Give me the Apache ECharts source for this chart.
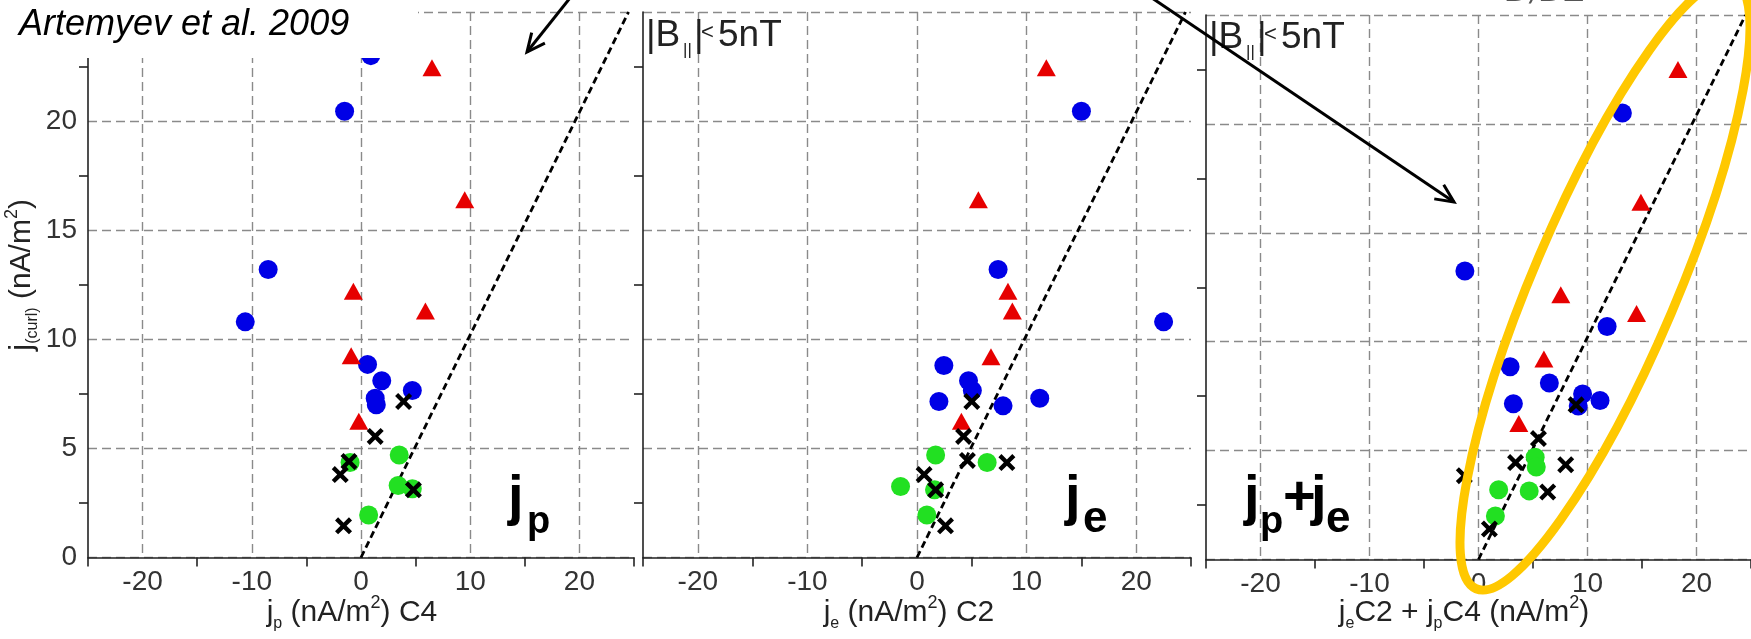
<!DOCTYPE html>
<html><head><meta charset="utf-8">
<script src="https://cdn.jsdelivr.net/npm/echarts@6/dist/echarts.min.js"></script>
<style>html,body{margin:0;padding:0;background:#fff}#c{width:1751px;height:639px}</style>
</head><body><div id="c"></div>
<script>
// ---------- data ----------
const xTickLabels = [-20, -10, 0, 10, 20];
const fitLine = [[0, 0], [24.5, 25]];

// panel 1: j_p (C4)
const blueJp  = [[0.9,23.0],[-1.5,20.45],[-8.5,13.2],[-10.6,10.8],[0.6,8.85],[1.9,8.1],[4.7,7.65],[1.3,7.3],[1.4,7.0]];
const redJp   = [[6.5,22.45],[9.5,16.4],[-0.7,12.2],[5.9,11.3],[-0.9,9.25],[-0.2,6.25]];
const greenJp = [[3.5,4.7],[-1.0,4.35],[3.4,3.3],[4.7,3.15],[0.7,1.95]];
const blackJp = [[3.9,7.15],[1.3,5.55],[-1.1,4.4],[-1.9,3.8],[4.8,3.1],[-1.6,1.45]];

// panel 2: j_e (C2)
const blueJe  = [[15.0,20.45],[7.4,13.2],[22.5,10.8],[2.45,8.8],[4.7,8.1],[5.05,7.65],[2.0,7.15],[7.85,6.95],[11.2,7.3]];
const redJe   = [[11.8,22.45],[5.6,16.4],[8.3,12.2],[8.7,11.3],[6.75,9.2],[4.05,6.25]];
const greenJe = [[1.7,4.7],[6.4,4.35],[-1.5,3.25],[1.6,3.1],[0.9,1.95]];
const blackJe = [[5.0,7.15],[4.25,5.55],[4.6,4.45],[8.2,4.35],[0.65,3.8],[1.7,3.1],[2.6,1.45]];

// panel 3: j_e C2 + j_p C4
const blueSum  = [[13.2,20.5],[-1.25,13.25],[11.8,10.7],[2.9,8.85],[6.5,8.1],[9.55,7.6],[9.15,7.05],[11.15,7.3],[3.2,7.15]];
const redSum   = [[18.3,22.5],[14.9,16.4],[7.55,12.15],[14.5,11.3],[6.0,9.2],[3.7,6.25]];
const greenSum = [[5.2,4.7],[5.3,4.25],[1.85,3.2],[4.65,3.15],[1.55,2.0]];
const blackSum = [[8.95,7.1],[5.5,5.55],[3.4,4.45],[8.0,4.35],[-1.3,3.85],[6.35,3.1],[1.0,1.4]];

const panels = [
  {blue: blueJp, red: redJp, green: greenJp, black: blackJp},
  {blue: blueJe, red: redJe, green: greenJe, black: blackJe},
  {blue: blueSum, red: redSum, green: greenSum, black: blackSum}
];

// ---------- styling ----------
const AX = '#222';
const GRIDC = '#8a8a8a';
const NUMFONT = '"Liberation Sans Narrow","Liberation Sans",sans-serif';
const TXTFONT = '"Liberation Sans",Arial,sans-serif';
const XPATH = 'path://M0,1.8L1.8,0L5,3.2L8.2,0L10,1.8L6.8,5L10,8.2L8.2,10L5,6.8L1.8,10L0,8.2L3.2,5Z';
const gridLine = {color: GRIDC, width: 1.4, type: [9, 5]};

const grids = [
  {left: 88, top: 12, width: 546, height: 545.5},
  {left: 643, top: 12, width: 548, height: 545.5},
  {left: 1206, top: 15, width: 548, height: 544.5}
];

const xAxes = grids.map((g, i) => ({
  gridIndex: i, type: 'value', min: -25, max: 25, interval: 10,
  axisLine: {show: true, onZero: false, lineStyle: {color: AX, width: 1.6}},
  axisTick: {show: true, length: 9, lineStyle: {color: AX, width: 1.6}},
  axisLabel: {show: true, customValues: xTickLabels, margin: 11, fontSize: 28, fontFamily: NUMFONT, color: '#333'},
  splitLine: {show: false},
  minorTick: {show: false, splitNumber: 2},
  minorSplitLine: {show: true, lineStyle: gridLine}
}));

const yAxes = grids.map((g, i) => ({
  gridIndex: i, type: 'value', min: 0, max: 25, interval: 5,
  axisLine: {show: true, onZero: false, lineStyle: {color: AX, width: 1.6}},
  axisTick: {show: false},
  minorTick: {show: true, splitNumber: 2, length: 9, lineStyle: {color: AX, width: 1.6}},
  axisLabel: {show: i === 0, formatter: v => (v >= 25 ? '' : String(v)), margin: 11, fontSize: 28, fontFamily: NUMFONT, color: '#333'},
  splitLine: {show: true, lineStyle: gridLine},
  minorSplitLine: {show: false}
}));

const series = [];
panels.forEach((p, i) => {
  series.push({type: 'line', xAxisIndex: i, yAxisIndex: i, data: fitLine, symbol: 'none', silent: true, z: 2,
    lineStyle: {color: '#000', width: 2.8, type: [7, 4]}});
  series.push({type: 'scatter', xAxisIndex: i, yAxisIndex: i, data: p.blue, symbol: 'circle', symbolSize: 19, z: 3,
    itemStyle: {color: '#0000e6', opacity: 1}});
  series.push({type: 'scatter', xAxisIndex: i, yAxisIndex: i, data: p.red, symbol: 'triangle', symbolSize: [19, 17], z: 3,
    itemStyle: {color: '#e60000', opacity: 1}});
  series.push({type: 'scatter', xAxisIndex: i, yAxisIndex: i, data: p.green, symbol: 'circle', symbolSize: 19, z: 4,
    itemStyle: {color: '#22e022', opacity: 1}});
  series.push({type: 'scatter', xAxisIndex: i, yAxisIndex: i, data: p.black, symbol: XPATH, symbolSize: 17, z: 5,
    itemStyle: {color: '#000', opacity: 1}});
});

// ---------- annotations ----------
function txt(x, y, text, font, extra) {
  return Object.assign({type: 'text', x: x, y: y, z: 100,
    style: Object.assign({text: text, font: font, fill: '#000', verticalAlign: 'middle', align: 'left'}, extra || {})});
}
function bLabel(x0, yc) {
  const f = '37px ' + TXTFONT;
  return [
    txt(x0, yc, '|B', f, {fill: '#222'}),
    txt(x0 + 37, yc + 14, '||', '17px ' + TXTFONT, {fill: '#222'}),
    txt(x0 + 48, yc, '|', f, {fill: '#222'}),
    txt(x0 + 55, yc - 3, '<', '22px ' + TXTFONT, {fill: '#222'}),
    txt(x0 + 72, yc, '5nT', f, {fill: '#222'})
  ];
}
function arrow(x1, y1, x2, y2) {
  const dx = x1 - x2, dy = y1 - y2, L = Math.hypot(dx, dy);
  const ux = dx / L, uy = dy / L, a = 25 * Math.PI / 180, len = 20;
  const b1 = [x2 + len * (ux * Math.cos(a) - uy * Math.sin(a)), y2 + len * (ux * Math.sin(a) + uy * Math.cos(a))];
  const b2 = [x2 + len * (ux * Math.cos(a) + uy * Math.sin(a)), y2 + len * (-ux * Math.sin(a) + uy * Math.cos(a))];
  return [
    {type: 'line', z: 100, shape: {x1: x1, y1: y1, x2: x2, y2: y2}, style: {stroke: '#000', lineWidth: 3}},
    {type: 'polyline', z: 100, shape: {points: [b1, [x2, y2], b2]}, style: {stroke: '#000', lineWidth: 3, fill: null}}
  ];
}
const BIG = 'bold 56px ' + TXTFONT;
const SUB = 'bold 38px ' + TXTFONT;
const SUBE = 'bold 44px ' + TXTFONT;

const richTitle = {
  n: {fontSize: 30, fontFamily: TXTFONT, fill: '#222', lineHeight: 38},
  s: {fontSize: 16, fontFamily: TXTFONT, fill: '#222', verticalAlign: 'bottom', lineHeight: 38},
  p: {fontSize: 18, fontFamily: TXTFONT, fill: '#222', verticalAlign: 'top', lineHeight: 38}
};

const graphic = [].concat(
  [{type: 'rect', z: 90, shape: {x: 0, y: 0, width: 418, height: 58}, style: {fill: '#fff'}}],
  [txt(19, 25, 'Artemyev et al. 2009', 'italic 36px ' + TXTFONT)],
  [txt(1507, -7, 'D/DZ', 'italic 30px "DejaVu Serif",serif', {fill: '#555'})],
  bLabel(646, 36),
  bLabel(1209, 38),
  [
    txt(508, 499, 'j', BIG), txt(527, 523, 'p', SUB),
    txt(1065, 499, 'j', BIG), txt(1083, 520, 'e', SUBE),
    txt(1244, 499, 'j', BIG), txt(1260, 523, 'p', SUB), txt(1283, 499, '+', BIG),
    txt(1311, 499, 'j', BIG), txt(1326, 520, 'e', SUBE)
  ],
  [
    {type: 'text', z: 100, x: 22, y: 275, rotation: Math.PI / 2,
      style: {text: '{j|j}{s|(curl)}{n| (nA/m}{p|2}{n|)}', align: 'center', verticalAlign: 'middle',
        rich: Object.assign({j: {fontSize: 32, fontFamily: TXTFONT, fill: '#222', lineHeight: 38}}, richTitle)}},
    {type: 'text', z: 100, x: 352, y: 613,
      style: {text: '{n|j}{s|p}{n| (nA/m}{p|2}{n|) C4}', align: 'center', verticalAlign: 'middle', rich: richTitle}},
    {type: 'text', z: 100, x: 909, y: 613,
      style: {text: '{n|j}{s|e}{n| (nA/m}{p|2}{n|) C2}', align: 'center', verticalAlign: 'middle', rich: richTitle}},
    {type: 'text', z: 100, x: 1464, y: 613,
      style: {text: '{n|j}{s|e}{n|C2 + j}{s|p}{n|C4 (nA/m}{p|2}{n|)}', align: 'center', verticalAlign: 'middle', rich: richTitle}}
  ],
  arrow(570, -2, 527, 52),
  arrow(1152, -2, 1454, 202),
  [{type: 'ellipse', z: 110, x: 1605, y: 285, rotation: 67 * Math.PI / 180,
    shape: {cx: 0, cy: 0, rx: 330, ry: 72}, style: {fill: null, stroke: '#ffc800', lineWidth: 9}}]
);

const chart = echarts.init(document.getElementById('c'), null, {renderer: 'canvas'});
chart.setOption({
  animation: false,
  backgroundColor: '#fff',
  grid: grids,
  xAxis: xAxes,
  yAxis: yAxes,
  series: series,
  graphic: graphic
});
</script></body></html>
